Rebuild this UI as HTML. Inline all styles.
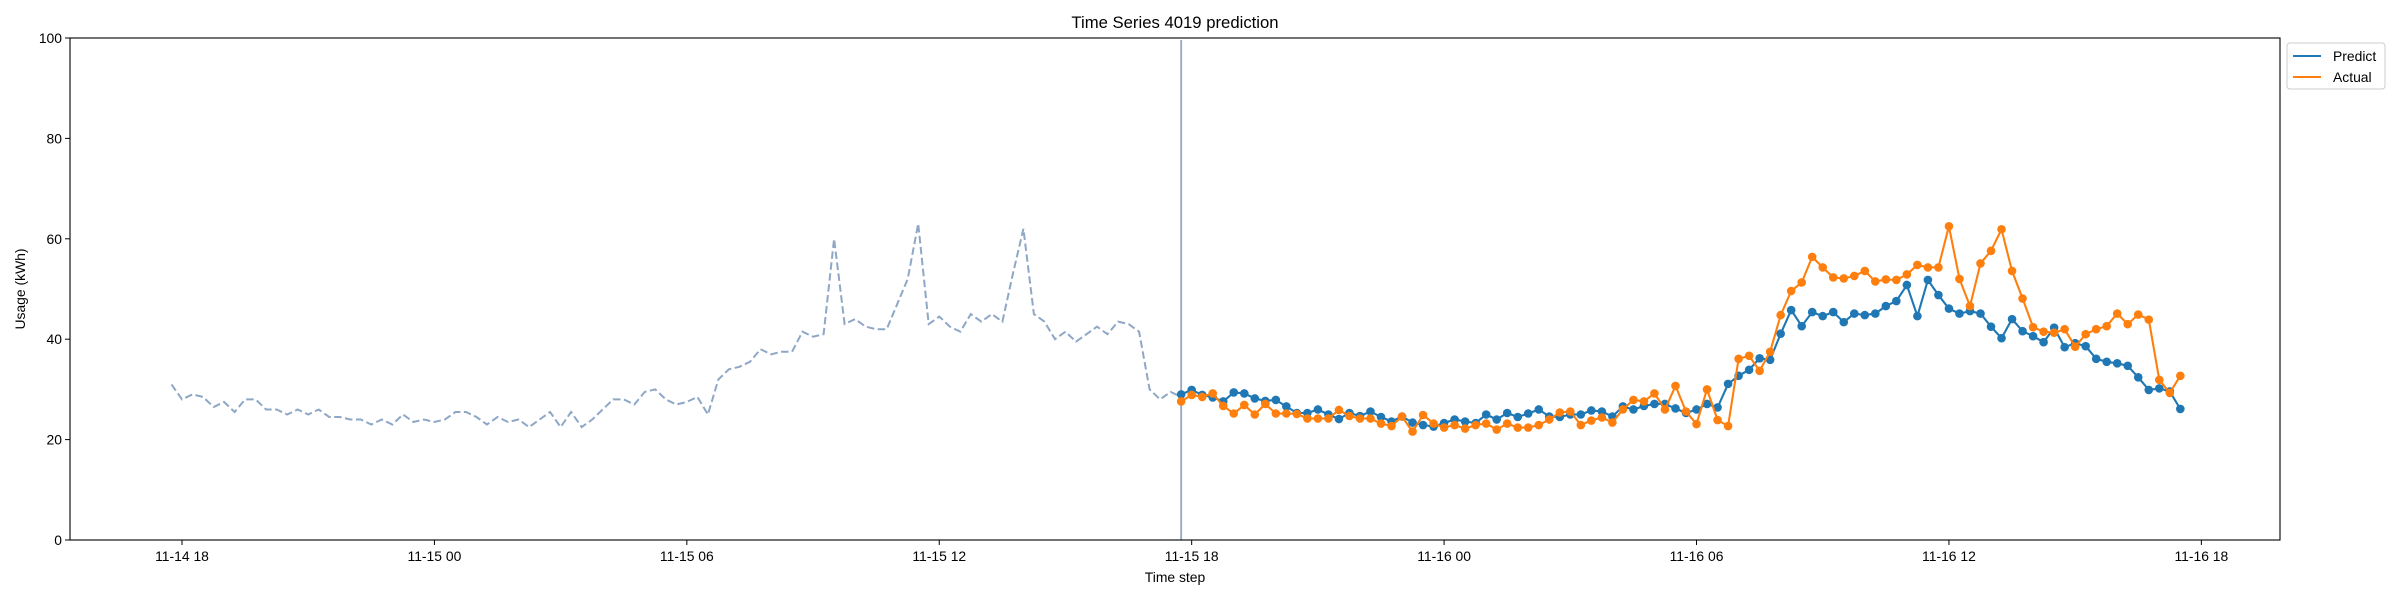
<!DOCTYPE html>
<html><head><meta charset="utf-8">
<style>
body{margin:0;background:#fff;}
svg{display:block;font-family:"Liberation Sans",sans-serif;}
</style></head>
<body>
<svg id="chart" width="2400" height="600" viewBox="0 0 2400 600" xmlns="http://www.w3.org/2000/svg">
<rect x="0" y="0" width="2400" height="600" fill="#fff"/>
<text x="1175" y="28" font-size="16.7" text-anchor="middle">Time Series 4019 prediction</text>
<g id="plot"></g>
<rect x="70" y="38" width="2210" height="502" fill="none" stroke="#000" stroke-width="1.1"/>
<text x="1175" y="582" font-size="13.9" text-anchor="middle">Time step</text>
<text transform="translate(25,289) rotate(-90)" font-size="13.9" text-anchor="middle">Usage (kWh)</text>
<g>
<rect x="2287" y="43" width="98" height="46" rx="3" fill="#fff" stroke="#ccc" stroke-width="1"/>
<line x1="2293" y1="56" x2="2321" y2="56" stroke="#1f77b4" stroke-width="2.1"/>
<text x="2333" y="61" font-size="13.9">Predict</text>
<line x1="2293" y1="77" x2="2321" y2="77" stroke="#ff7f0e" stroke-width="2.1"/>
<text x="2333" y="82" font-size="13.9">Actual</text>
</g>
</svg>
<script>
const historyValues=[31,28,29,28.5,26.5,27.5,25.5,28,28,26,26,25,26,25,26,24.5,24.5,24,24,23,24,23,25,23.5,24,23.5,24,25.5,25.5,24.5,23,24.5,23.5,24,22.5,24,25.5,22.5,25.5,22.5,24,26,28,28,27,29.5,30,28,27,27.5,28.5,25,32,34,34.5,35.5,38,37,37.5,37.5,41.5,40.5,41,60,43,44,42.5,42,42,47,52,63,43,44.5,42.5,41.5,45,43.5,45,43.5,53,62,45,43.5,40,41.5,39.5,41,42.5,41,43.5,43,41.5,30,28,29.5,28.5];
const predictValues=[29.0,29.9,28.9,28.4,27.6,29.4,29.2,28.2,27.7,27.9,26.6,25.3,25.3,26.0,25.0,24.1,25.3,24.7,25.6,24.5,23.6,24.6,23.4,22.9,22.6,23.3,24.0,23.6,23.3,25.0,24.0,25.3,24.5,25.2,26.0,24.6,24.5,25.0,25.0,25.8,25.6,24.6,26.6,26.0,26.7,27.1,27.1,26.2,25.3,26.0,27.1,26.4,31.1,32.7,33.9,36.2,35.9,41.1,45.8,42.6,45.4,44.6,45.4,43.4,45.1,44.8,45.1,46.6,47.6,50.8,44.6,51.8,48.8,46.1,45.1,45.6,45.1,42.5,40.2,44.0,41.6,40.6,39.4,42.3,38.4,39.2,38.6,36.1,35.5,35.2,34.7,32.4,29.9,30.2,29.6,26.1];
const actualValues=[27.6,28.9,28.5,29.2,26.7,25.2,26.9,25.0,27.1,25.2,25.2,25.1,24.2,24.2,24.2,25.9,24.7,24.2,24.2,23.2,22.7,24.6,21.6,24.9,23.2,22.4,22.9,22.2,22.9,23.2,22.0,23.2,22.4,22.4,22.9,24.0,25.4,25.6,22.9,23.8,24.4,23.4,26.0,27.9,27.6,29.2,26.0,30.7,25.6,23.1,30.0,23.9,22.7,36.1,36.7,33.7,37.5,44.8,49.6,51.3,56.4,54.3,52.3,52.1,52.6,53.6,51.5,51.9,51.8,52.9,54.8,54.3,54.3,62.5,52.0,46.6,55.1,57.6,61.9,53.6,48.1,42.4,41.5,41.3,42.0,38.5,41.0,42.0,42.6,45.1,43.0,44.9,43.9,31.9,29.3,32.7];
const xTickLabels=["11-14 18","11-15 00","11-15 06","11-15 12","11-15 18","11-16 00","11-16 06","11-16 12","11-16 18"];
const xTickHours=[0,6,12,18,24,30,36,42,48];
const yTickValues=[0,20,40,60,80,100];
const historyStartHour=-0.25, forecastStartHour=23.75, stepHours=0.25;

const NS="http://www.w3.org/2000/svg";
const X=h=>182+42.07*h;
const Y=v=>540-5.02*v;
const plot=document.getElementById('plot');
function mk(tag,attrs){const e=document.createElementNS(NS,tag);for(const k in attrs)e.setAttribute(k,attrs[k]);plot.appendChild(e);return e;}

yTickValues.forEach(v=>{
  const t=mk('line',{x1:65,x2:70,y1:Y(v),y2:Y(v),stroke:'#000','stroke-width':1});
  
  
  const l=mk('text',{x:62,y:Y(v)+5,'font-size':13.9,'text-anchor':'end'});
  
  
  l.textContent=v;
});
xTickHours.forEach((h,i)=>{
  const t=mk('line',{x1:X(h),x2:X(h),y1:540,y2:545,stroke:'#000','stroke-width':1});
  
  
  const l=mk('text',{x:X(h),y:561,'font-size':13.9,'text-anchor':'middle'});
  
  
  l.textContent=xTickLabels[i];
});

const hp=historyValues.map((v,i)=>X(historyStartHour+i*stepHours).toFixed(1)+','+Y(v).toFixed(1)).join(' ');
const hl=mk('polyline',{points:hp,fill:'none',stroke:'#8fa7c6','stroke-width':2,'stroke-dasharray':'7.5,3.5'});



const vl=mk('line',{x1:X(forecastStartHour),x2:X(forecastStartHour),y1:40,y2:540,stroke:'#97a6c8','stroke-width':1.8});



function series(vals,color,name){
  const pts=vals.map((v,i)=>[X(forecastStartHour+i*stepHours),Y(v)]);
  const pl=mk('polyline',{points:pts.map(p=>p[0].toFixed(1)+','+p[1].toFixed(1)).join(' '),fill:'none',stroke:color,'stroke-width':2.1});
  
  
  pts.forEach(p=>{
    const c=mk('circle',{cx:p[0],cy:p[1],r:4.3,fill:color});
    
    
  });
}
series(predictValues,'#1f77b4','predict');
series(actualValues,'#ff7f0e','actual');
</script>
</body></html>
